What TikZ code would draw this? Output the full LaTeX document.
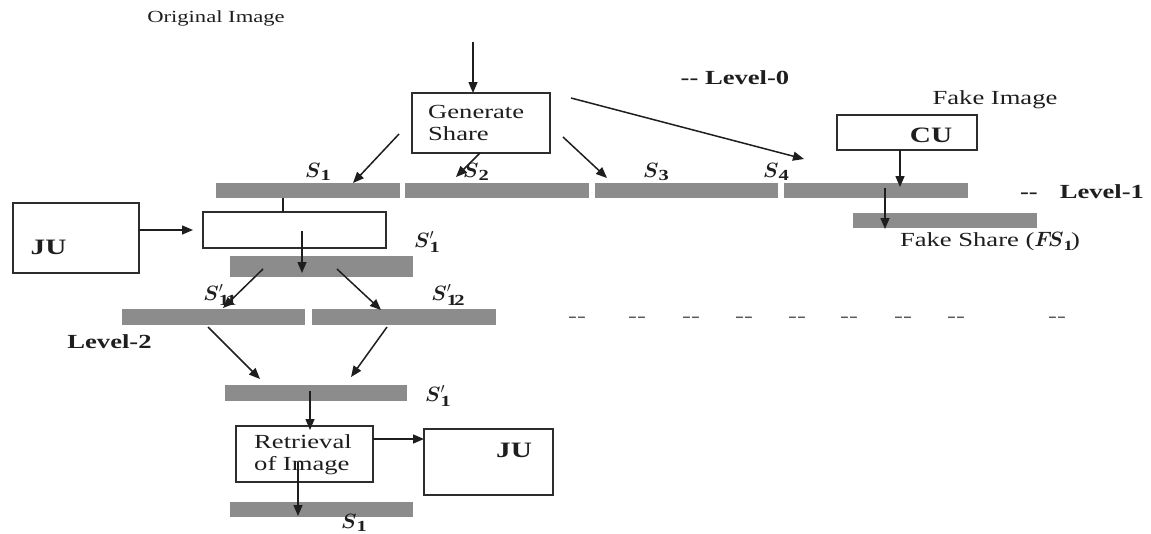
\documentclass[tikz,border=0pt]{standalone}
\usepackage{fontspec}
\usepackage{amsmath}
\setmainfont{Liberation Serif}[FakeStretch=1.33]
\usetikzlibrary{arrows.meta}
\definecolor{barcol}{RGB}{140,140,140}
\definecolor{inkcol}{RGB}{30,30,30}
\definecolor{boxcol}{RGB}{45,45,45}
\definecolor{dashcol}{RGB}{90,90,90}
\tikzset{
  box/.style={draw=boxcol, line width=1.5pt, inner sep=0pt},
  bar/.style={fill=barcol, draw=none, inner sep=0pt},
  arr/.style={draw=inkcol, line width=1.5pt, -{Triangle[length=11pt,width=9pt]}},
  plain/.style={draw=inkcol, line width=1.5pt},
  txt/.style={inner sep=0pt, text=inkcol, font=\fontsize{20}{22}\selectfont},
  bold/.style={txt, font=\fontsize{20}{22}\selectfont\bfseries},
  big/.style={txt, font=\fontsize{22}{24}\selectfont\bfseries},
  small/.style={txt, font=\fontsize{17}{19}\selectfont},
  sym/.style={inner sep=0pt, text=inkcol, font=\fontsize{22}{24}\selectfont},
  dsh/.style={inner sep=0pt, text=dashcol, font=\fontsize{20}{22}\selectfont}
}
\begin{document}
\begin{tikzpicture}[x=1pt, y=-1pt]
\path[use as bounding box] (0,0) rectangle (1151,533);
\clip (0,0) rectangle (1151,533);

% ---------- top ----------
\node[small] (orig) at (216,18) {Original Image};
\node[box, minimum width=138pt, minimum height=60pt] (gen) at (481,123) {};
\node[txt, align=left, anchor=west] (gentxt) at (428,123) {Generate\\Share};
\node[bold] (lv0) at (735,78) {-{}- Level-0};

\coordinate (a0s) at (473,42);
\coordinate (a0e) at (473,93);
\draw[arr] (a0s) -- (a0e);

% level-1 bars
\node[bar, minimum width=184pt, minimum height=15pt] (b1) at (308,190.5) {};
\node[bar, minimum width=184pt, minimum height=15pt] (b2) at (497,190.5) {};
\node[bar, minimum width=183pt, minimum height=15pt] (b3) at (686.5,190.5) {};
\node[bar, minimum width=184pt, minimum height=15pt] (b4) at (876,190.5) {};

\node[sym] (s1) at (317,172) {$\boldsymbol{S}_{\mathbf{1}}$};
\node[sym] (s2) at (475,172) {$\boldsymbol{S}_{\mathbf{2}}$};
\node[sym] (s3) at (655,172) {$\boldsymbol{S}_{\mathbf{3}}$};
\node[sym] (s4) at (775,172) {$\boldsymbol{S}_{\mathbf{4}}$};

\coordinate (g1s) at (399,134); \coordinate (g1e) at (353,183);
\coordinate (g2s) at (480,153); \coordinate (g2e) at (456,177);
\coordinate (g3s) at (563,137); \coordinate (g3e) at (607,178);
\coordinate (g4s) at (571,98);  \coordinate (g4e) at (804,159);
\draw[arr] (g1s) -- (g1e);
\draw[arr] (g2s) -- (g2e);
\draw[arr] (g3s) -- (g3e);
\draw[arr] (g4s) -- (g4e);

% fake branch
\node[txt] (fimg) at (995,100) {Fake Image};
\node[box, minimum width=140pt, minimum height=35pt] (cu) at (907,132.5) {};
\node[big] (cutxt) at (931,135) {CU};
\node[bar, minimum width=184pt, minimum height=15pt] (fs) at (945,220.5) {};
\node[txt] (fstxt) at (990,242) {Fake Share ($\boldsymbol{F\!S}_{\mathbf{1}}$)};
\node[bold] (lv1) at (1082,192) {-{}-\hspace{22pt}Level-1};
\coordinate (c1s) at (900,150); \coordinate (c1e) at (900,187);
\coordinate (f1s) at (885,188); \coordinate (f1e) at (885,229);
\draw[arr] (c1s) -- (c1e);
\draw[arr] (f1s) -- (f1e);

% ---------- JU left & S1' ----------
\node[box, minimum width=126pt, minimum height=70pt] (ju1) at (76,238) {};
\node[big] (ju1txt) at (48.5,247) {JU};
\node[box, minimum width=183pt, minimum height=36pt] (e1) at (294.5,230) {};
\coordinate (j1s) at (139,230); \coordinate (j1e) at (193,230);
\draw[arr] (j1s) -- (j1e);
\coordinate (l1s) at (283,198); \coordinate (l1e) at (283,212);
\draw[plain] (l1s) -- (l1e);

\node[bar, minimum width=183pt, minimum height=21pt] (bp) at (321.5,266.5) {};
\node[sym] (sp) at (426,242) {$\boldsymbol{S}'_{\mathbf{1}}$};
\coordinate (e1s) at (302,231); \coordinate (e1e) at (302,273);
\draw[arr] (e1s) -- (e1e);

% level-2
\node[bar, minimum width=183pt, minimum height=16pt] (l2a) at (213.5,317) {};
\node[bar, minimum width=184pt, minimum height=16pt] (l2b) at (404,317) {};
\node[sym] (s11) at (219,295) {$\boldsymbol{S}'_{\mathbf{11}}$};
\node[sym] (s12) at (447,295) {$\boldsymbol{S}'_{\mathbf{12}}$};
\node[bold] (lv2) at (109.5,342) {Level-2};
\coordinate (p1s) at (263,269); \coordinate (p1e) at (223,308);
\coordinate (p2s) at (337,269); \coordinate (p2e) at (381,310);
\draw[arr] (p1s) -- (p1e);
\draw[arr] (p2s) -- (p2e);

\foreach \xx [count=\i] in {577,637,691,744,797,849,903,956,1057}
  \node[dsh] (d\i) at (\xx,320) {-{}-};

% ---------- bottom ----------
\coordinate (q1s) at (208,327); \coordinate (q1e) at (260,379);
\coordinate (q2s) at (387,327); \coordinate (q2e) at (351,377);
\draw[arr] (q1s) -- (q1e);
\draw[arr] (q2s) -- (q2e);
\node[bar, minimum width=182pt, minimum height=16pt] (mb) at (316,393) {};
\node[sym] (smb) at (437,396) {$\boldsymbol{S}'_{\mathbf{1}}$};
\node[box, minimum width=137pt, minimum height=56pt] (ret) at (304.5,454) {};
\node[txt, align=left, anchor=west] (rettxt) at (254,454.5) {Retrieval\\of Image};
\coordinate (m1s) at (310,391); \coordinate (m1e) at (310,430);
\draw[arr] (m1s) -- (m1e);

\node[box, minimum width=129pt, minimum height=66pt] (ju2) at (488.5,462) {};
\node[big] (ju2txt) at (514,450) {JU};
\coordinate (r1s) at (373,439); \coordinate (r1e) at (424,439);
\draw[arr] (r1s) -- (r1e);

\node[bar, minimum width=183pt, minimum height=15pt] (bb) at (321.5,509.5) {};
\coordinate (r2s) at (298,462); \coordinate (r2e) at (298,516);
\draw[arr] (r2s) -- (r2e);
\node[sym, anchor=south] (sbot) at (353,532) {$\boldsymbol{S}_{\mathbf{1}}$};
\end{tikzpicture}
\end{document}
